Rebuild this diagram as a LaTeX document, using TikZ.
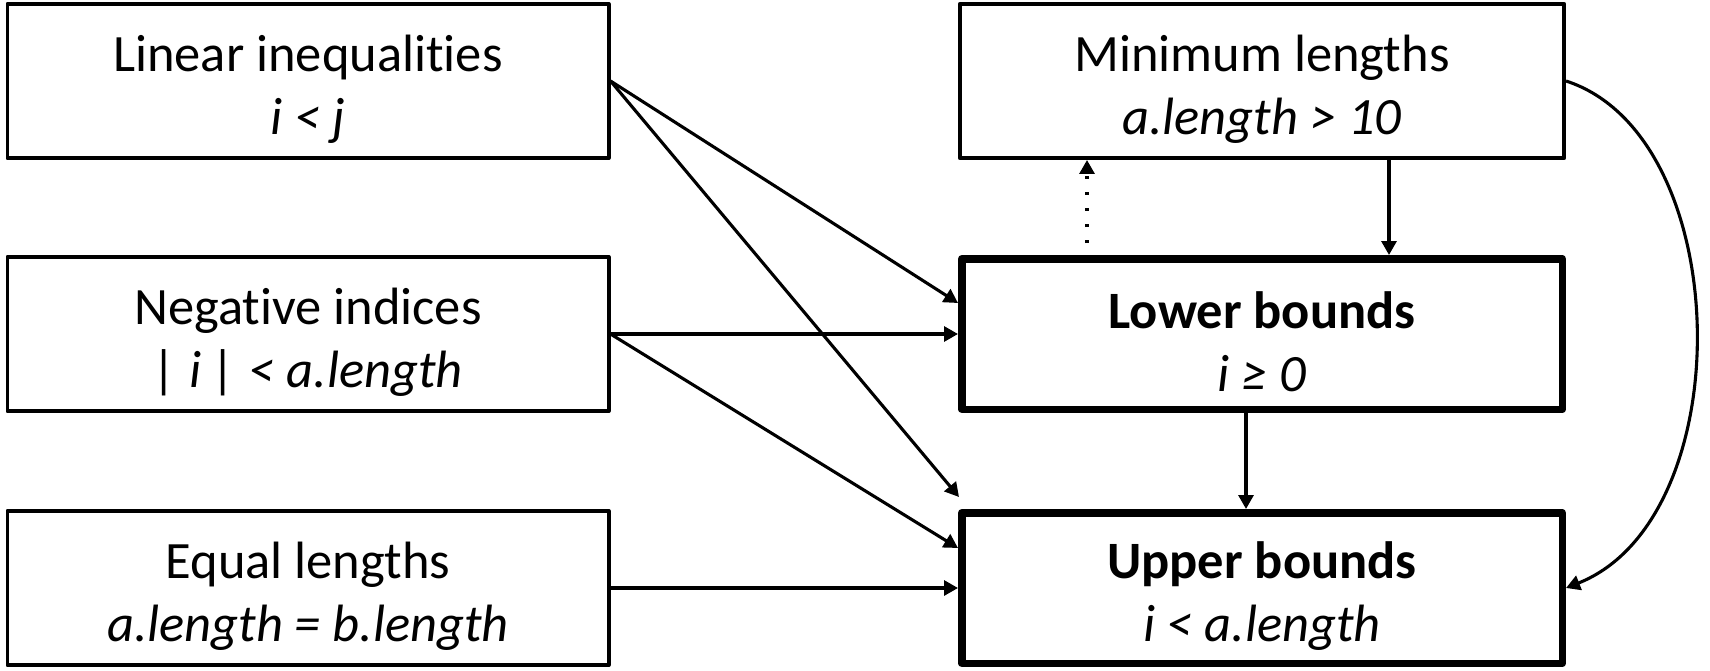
\documentclass[tikz,border=0pt]{standalone}
\usepackage{fontspec}
\setmainfont{Carlito}[Ligatures={NoCommon,NoRare}]
\usetikzlibrary{arrows.meta,calc}
\begin{document}
\begin{tikzpicture}[x=1pt,y=-1pt,
  box/.style={draw, line width=3.7pt, line join=round, minimum width=601.3pt, minimum height=154.3pt,
    inner sep=0pt},
  boxthick/.style={box, line width=7.5pt, minimum width=600.5pt, minimum height=150.5pt},
  txt/.style={align=center, inner sep=0pt, yshift=-8pt, font=\fontsize{52.5}{63}\selectfont},
  arr/.style={line width=3.1pt, -{Triangle[length=14pt,width=15pt]}},
]
\useasboundingbox (0,0) rectangle (1710,671);

\node[box, label={[txt]center:{Linear inequalities\\\textit{i < j}}}] (lin) at (308,81) {};
\node[box, label={[txt]center:{Negative indices\\\textit{| i | < a.length}}}] (neg) at (308,334) {};
\node[box, label={[txt]center:{Equal lengths\\\textit{a.length = b.length}}}] (eq) at (308,588) {};
\node[box, minimum width=604.3pt, label={[txt]center:{Minimum lengths\\\textit{a.length > 10}}}] (min) at (1262,81) {};
\node[boxthick, label={[txt]center:{\textbf{Lower bounds}\\\textit{i ≥ 0}}}] (low) at (1262,334) {};
\node[boxthick, label={[txt]center:{\textbf{Upper bounds}\\\textit{i < a.length}}}] (up) at (1262,588) {};

\coordinate (ua) at ($(up.north west)+(1,-12)$);
\coordinate (mx) at (1389,0);
\coordinate (dx) at (1087,0);
\coordinate (lx) at (1246,0);

\draw[arr] (lin.east) -- ($(low.west)+(0,-31)$);
\draw[arr] (lin.east) -- (ua);
\draw[arr] (neg.east) -- (low.west);
\draw[arr] (neg.east) -- ($(up.west)+(0,-40)$);
\draw[arr] (eq.east) -- (up.west);
\draw[arr] (min.south -| mx) -- (low.north -| mx);
\draw[arr, dash pattern=on 3pt off 13pt] ($(low.north -| dx)+(0,-12)$) -- (min.south -| dx);
\draw[arr] (low.south -| lx) -- (up.north -| lx);
\draw[arr] (min.east) .. controls +(170,55) and +(176,-70) .. (up.east);
\end{tikzpicture}
\end{document}
